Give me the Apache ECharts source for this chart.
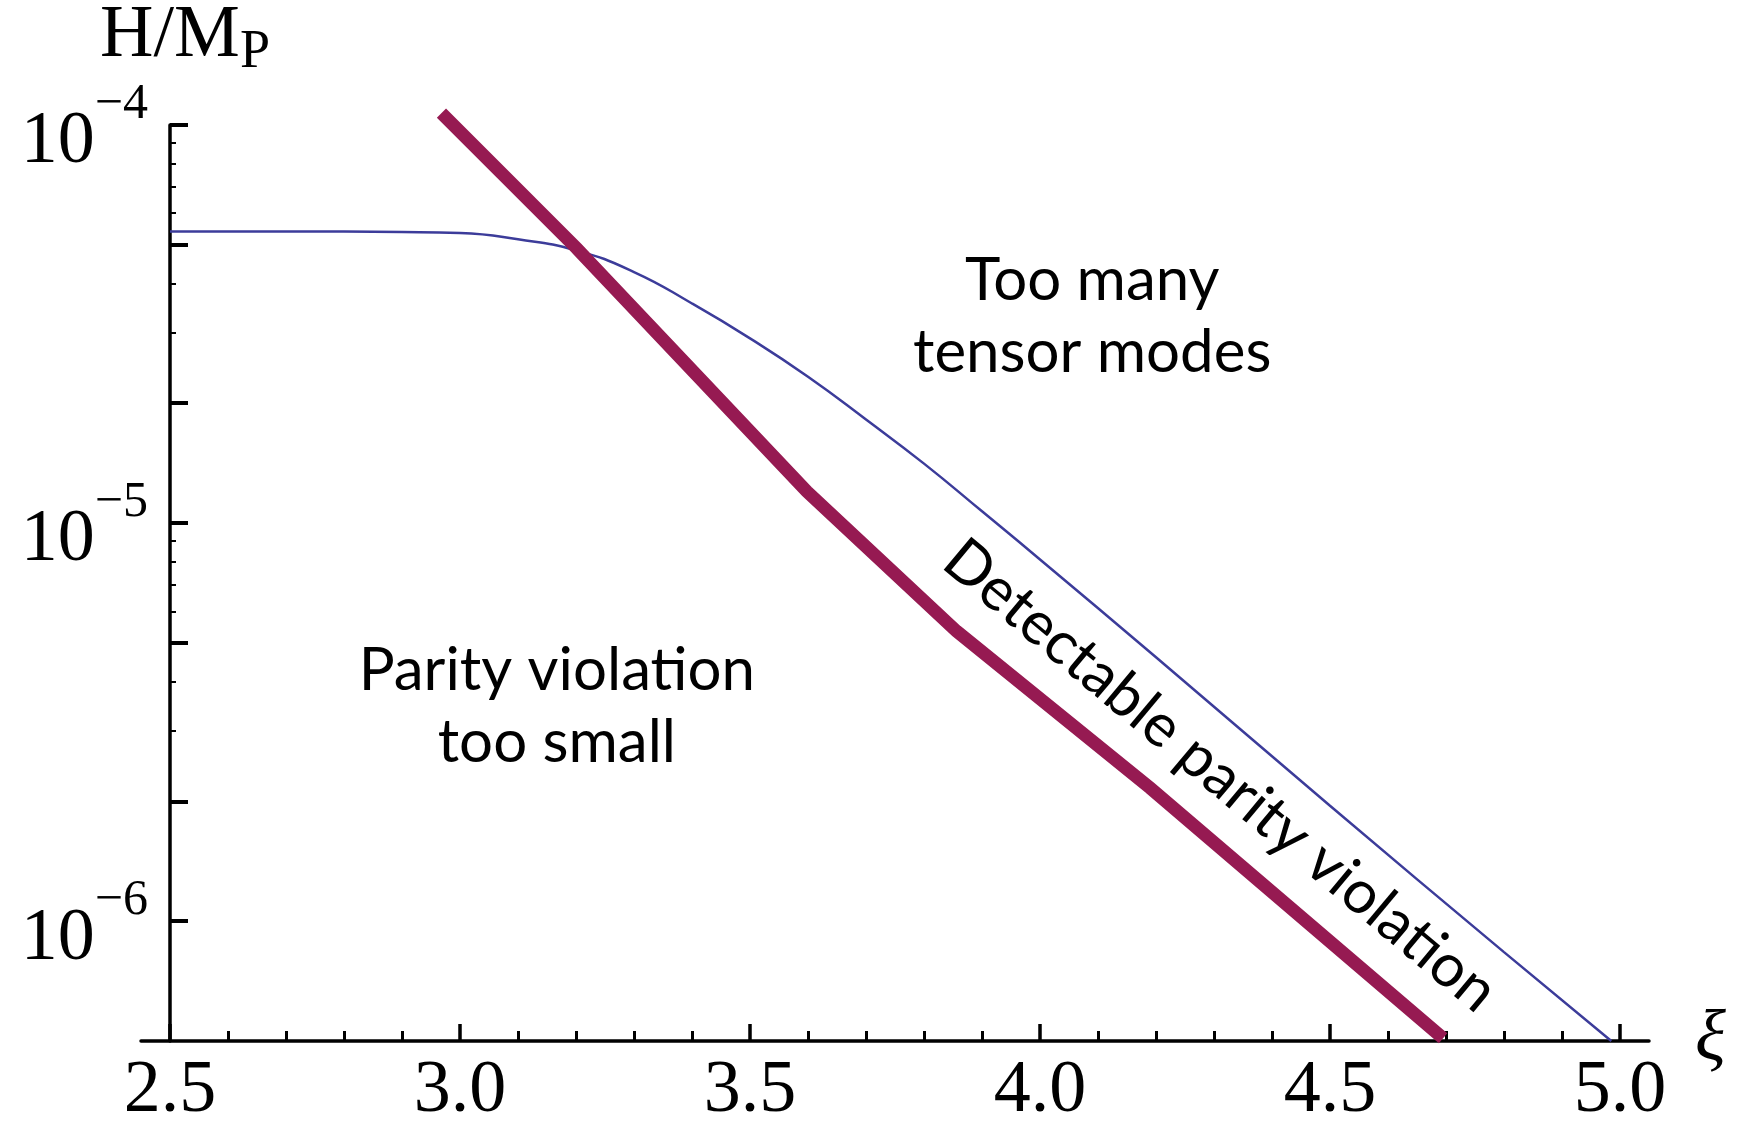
<!DOCTYPE html>
<html>
<head>
<meta charset="utf-8">
<script src="https://cdn.jsdelivr.net/npm/echarts@6/dist/echarts.min.js"></script>
<style>
  html, body { margin: 0; padding: 0; background: #fff; }
  #chart { width: 1742px; height: 1129px; }
</style>
</head>
<body>
<div id="chart"></div>
<script>
// Bound on the Hubble rate H/M_P as a function of the coupling xi.
// Upper curve: limit from the tensor amplitude.
const xiTensorBound = [2.5, 2.7, 2.9, 3.0, 3.1, 3.2, 3.3, 3.4, 3.5, 3.6, 3.7, 3.8, 3.9, 4.0, 4.2, 4.5, 4.8, 4.985];
const hTensorBound  = [5.40e-5, 5.40e-5, 5.38e-5, 5.35e-5, 5.16e-5, 4.84e-5, 4.27e-5, 3.56e-5, 2.91e-5,
                       2.33e-5, 1.82e-5, 1.41e-5, 1.07e-5, 8.1e-6, 4.6e-6, 1.95e-6, 8.36e-7, 5.0e-7];

// Thick curve: threshold for detectable parity violation.
const xiParity = [2.968, 3.201, 3.598, 3.856, 4.190, 4.695];
const hParity  = [1.07e-4, 4.90e-5, 1.20e-5, 5.35e-6, 2.16e-6, 5.08e-7];

// Axis ticks
const xMajorTicks = [2.5, 3.0, 3.5, 4.0, 4.5, 5.0];
const xMinorTicks = [2.6, 2.7, 2.8, 2.9, 3.1, 3.2, 3.3, 3.4, 3.6, 3.7, 3.8, 3.9,
                     4.1, 4.2, 4.3, 4.4, 4.6, 4.7, 4.8, 4.9];
const yDecadeExponents = [-6, -5, -4];
const yMajorMantissas = [1, 2, 5];
const yMinorMantissas = [3, 4, 6, 7, 8, 9];

// The vertical axis is drawn in log10 space.
const yMin = Math.log10(5e-7);
const yMax = -4;
const lg = Math.log10;

const yMajorTicks = [];
const yMinorTicks = [];
yDecadeExponents.forEach(function (e) {
  yMajorMantissas.forEach(function (m) {
    const v = lg(m) + e;
    if (v <= yMax + 1e-9) yMajorTicks.push(v);
  });
  yMinorMantissas.forEach(function (m) {
    const v = lg(m) + e;
    if (v < yMax) yMinorTicks.push(v);
  });
});

const serif = '"Liberation Serif", "DejaVu Serif", serif';
const sans = 'Lato, "Open Sans", sans-serif';
const ink = '#000';

const chart = echarts.init(document.getElementById('chart'), null, { renderer: 'canvas' });

const option = {
  animation: false,
  backgroundColor: '#fff',
  grid: { left: 141, right: 93, top: 118, bottom: 82, containLabel: false },
  xAxis: [
    {
      type: 'value', min: 2.45, max: 5.05, position: 'bottom',
      name: 'ξ', nameLocation: 'end', nameGap: 46,
      nameTextStyle: { fontFamily: serif, fontStyle: 'italic', fontSize: 72, color: ink,
                       align: 'left', verticalAlign: 'middle' },
      splitLine: { show: false },
      axisLine: { show: true, lineStyle: { color: ink, width: 3.5 } },
      axisTick: { show: true, inside: true, length: 17, customValues: xMajorTicks,
                  lineStyle: { color: ink, width: 3.5 } },
      axisLabel: { show: true, customValues: xMajorTicks, margin: 14,
                   formatter: function (v) { return v.toFixed(1); },
                   fontFamily: serif, fontSize: 74, lineHeight: 74, color: ink }
    },
    {
      type: 'value', min: 2.45, max: 5.05, position: 'bottom',
      splitLine: { show: false },
      axisLine: { show: false },
      axisLabel: { show: false },
      axisTick: { show: true, inside: true, length: 10, customValues: xMinorTicks,
                  lineStyle: { color: ink, width: 3 } }
    }
  ],
  yAxis: [
    {
      type: 'value', min: yMin, max: yMax, position: 'left', offset: -29,
      name: '{m|H/M}{p|P}', nameLocation: 'end', nameGap: 32,
      nameTextStyle: {
        align: 'center', verticalAlign: 'bottom', padding: [0, 0, 0, 30],
        rich: {
          m: { fontFamily: serif, fontSize: 74, lineHeight: 80, verticalAlign: 'top', color: ink },
          p: { fontFamily: serif, fontSize: 54, lineHeight: 58, verticalAlign: 'bottom', color: ink }
        }
      },
      splitLine: { show: false },
      axisLine: { show: true, lineStyle: { color: ink, width: 3.5 } },
      axisTick: { show: true, inside: true, length: 18, customValues: yMajorTicks,
                  lineStyle: { color: ink, width: 4 } },
      axisLabel: {
        show: true, customValues: yDecadeExponents, margin: 22, padding: [10, 0, 0, 0],
        formatter: function (v) { return '{b|10}{s|\u2212' + Math.abs(Math.round(v)) + '}'; },
        rich: {
          b: { fontFamily: serif, fontSize: 74, lineHeight: 100, verticalAlign: 'bottom', color: ink },
          s: { fontFamily: serif, fontSize: 50, lineHeight: 50, verticalAlign: 'top', color: ink }
        }
      }
    },
    {
      type: 'value', min: yMin, max: yMax, position: 'left', offset: -29,
      splitLine: { show: false },
      axisLine: { show: false },
      axisLabel: { show: false },
      axisTick: { show: true, inside: true, length: 6, customValues: yMinorTicks,
                  lineStyle: { color: ink, width: 2 } }
    }
  ],
  series: [
    {
      name: 'tensor bound', type: 'line', xAxisIndex: 0, yAxisIndex: 0,
      data: xiTensorBound.map(function (x, i) { return [x, lg(hTensorBound[i])]; }),
      showSymbol: false, smooth: 0.5,
      lineStyle: { color: '#3c3c9a', width: 2.5 }, z: 2
    },
    {
      name: 'parity threshold', type: 'line', xAxisIndex: 0, yAxisIndex: 0,
      data: xiParity.map(function (x, i) { return [x, lg(hParity[i])]; }),
      showSymbol: false, clip: false,
      lineStyle: { color: '#961a52', width: 13, cap: 'butt', join: 'miter' }, z: 3
    }
  ]
};

chart.setOption(option);

// Region annotations, anchored in data coordinates
function at(xi, h) {
  return chart.convertToPixel({ xAxisIndex: 0, yAxisIndex: 0 }, [xi, lg(h)]);
}
const pTensor = at(4.09, 3.3e-5);
const pSmall = at(3.167, 3.45e-6);
const pDetect = at(4.311, 2.32e-6);
const annotationFont = '60px ' + sans;

chart.setOption({
  graphic: [
    { type: 'text', x: pTensor[0], y: pTensor[1],
      style: { text: 'Too many\ntensor modes', font: annotationFont, fill: ink,
               textAlign: 'center', textVerticalAlign: 'middle', lineHeight: 72 } },
    { type: 'text', x: pSmall[0], y: pSmall[1],
      style: { text: 'Parity violation\ntoo small', font: annotationFont, fill: ink,
               textAlign: 'center', textVerticalAlign: 'middle', lineHeight: 72 } },
    { type: 'text', x: pDetect[0], y: pDetect[1], rotation: -0.696,
      style: { text: 'Detectable parity violation', font: annotationFont, fill: ink,
               textAlign: 'center', textVerticalAlign: 'middle' } }
  ]
});
</script>
</body>
</html>
